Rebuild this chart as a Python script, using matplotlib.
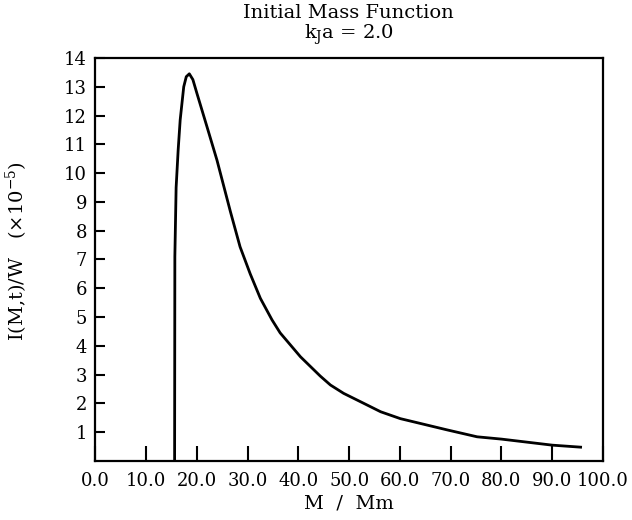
import matplotlib.pyplot as plt
import numpy as np

# values
mass = [15.6, 15.65, 15.9, 16.3, 16.7, 17.4, 17.9, 18.5, 19.2, 20.0, 22.0,
        23.95, 26.6, 28.5, 30.5, 32.5, 34.8, 36.4, 40.4, 44.3, 46.3, 48.9,
        52.9, 56.2, 60.1, 62.7, 69.3, 75.2, 80.0, 90.0, 95.6]
imf = [0.0, 7.1, 9.5, 10.8, 11.85, 13.0, 13.35, 13.45, 13.25, 12.77, 11.6,
       10.45, 8.66, 7.44, 6.5, 5.65, 4.9, 4.45, 3.62, 2.95, 2.64, 2.35,
       2.0, 1.71, 1.47, 1.36, 1.08, 0.84, 0.76, 0.55, 0.48]

x_ticks = np.arange(0, 101, 10)
x_labels = ["%.1f" % v for v in x_ticks]
y_ticks = np.arange(1, 15)
y_labels = [str(v) for v in y_ticks]

plt.rcParams["font.family"] = ["DejaVu Serif"]
plt.rcParams["mathtext.fontset"] = "dejavuserif"

fig = plt.figure(figsize=(6.32, 5.2), dpi=100)
ax = fig.add_axes([0.151, 0.1135, 0.803, 0.775])

ax.plot(mass, imf, color="black", linewidth=2.0, solid_joinstyle="round")

ax.set_xlim(0, 100)
ax.set_ylim(0, 14)

ax.set_xticks(x_ticks)
ax.set_xticklabels(x_labels, fontsize=13)
ax.set_yticks(y_ticks)
ax.set_yticklabels(y_labels, fontsize=13)
ax.tick_params(axis="x", direction="in", length=11, width=1.5, pad=8)
ax.tick_params(axis="y", direction="in", length=7, width=1.5, pad=6)

for s in ax.spines.values():
    s.set_linewidth(1.6)

ax.set_xlabel("M  /  Mm", fontsize=14, labelpad=3)
fig.text(0.027, 0.517, r"I(M,t)/W   ($\times$10$^{-5}$)", fontsize=14,
         rotation=90, ha="center", va="center")
fig.text(0.552, 0.975, "Initial Mass Function", fontsize=14,
         ha="center", va="center")
fig.text(0.552, 0.933, r"k$_{\rm J}$a = 2.0", fontsize=14,
         ha="center", va="center")

fig.savefig("out.png", dpi=100)
